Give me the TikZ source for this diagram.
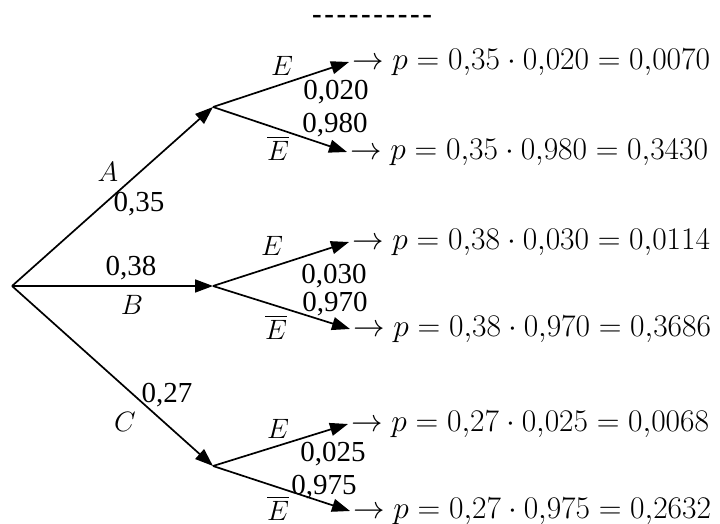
\RequirePackage{fix-cm}
\documentclass[tikz,border=0pt]{standalone}
\usepackage{fontspec}
\setmainfont{Liberation Serif}
\usepackage{amsmath}
\usepackage{tikz}
\usetikzlibrary{arrows.meta,positioning}

\begin{document}
\begin{tikzpicture}[
    x=1pt,y=-1pt,
    branch/.style={line width=1.7pt,-{Triangle[length=18pt,width=13pt]}},
    prob/.style={font=\fontsize{29}{32}\selectfont,inner sep=0pt},
    event/.style={font=\fontsize{28}{30}\selectfont,inner sep=0pt},
    result/.style={font=\fontsize{31.5}{34}\selectfont,inner sep=0pt}
  ]
    \useasboundingbox (0,0) rectangle (720,524);
    \node[prob,font=\fontsize{29}{32}\bfseries] (dashes) at (372,19) {\foreach \i in {1,...,10}{-\hspace{2.6pt}}};

    \coordinate (root) at (12,286);
    \coordinate (nA) at (213,107);
    \coordinate (nB) at (213,286);
    \coordinate (nC) at (213,466);
    \coordinate (lAE) at (349,62);
    \coordinate (lAN) at (347,152);
    \coordinate (lBE) at (349,242);
    \coordinate (lBN) at (350,329);
    \coordinate (lCE) at (348,424);
    \coordinate (lCN) at (350,511);

    \draw[branch] (root) -- (nA);
    \draw[branch] (root) -- (nB);
    \draw[branch] (root) -- (nC);
    \draw[branch] (nA) -- (lAE);
    \draw[branch] (nA) -- (lAN);
    \draw[branch] (nB) -- (lBE);
    \draw[branch] (nB) -- (lBN);
    \draw[branch] (nC) -- (lCE);
    \draw[branch] (nC) -- (lCN);

    \node[event] (evA) at (108,172) {$A$};
    \node[prob] (pA) at (139,204) {0,35};
    \node[prob] (pB) at (131,268) {0,38};
    \node[event] (evB) at (132,305) {$B$};
    \node[prob] (pC) at (167,395) {0,27};
    \node[event] (evC) at (125,422) {$C$};

    \node[event] (evAE) at (282,66) {$E$};
    \node[prob] (pAE) at (336,92) {0,020};
    \node[prob] (pAN) at (335,125) {0,980};
    \node[event] (evAN) at (278,148) {$\overline{E}$};
    \node[event] (evBE) at (272,246) {$E$};
    \node[prob] (pBE) at (334,276) {0,030};
    \node[prob] (pBN) at (335,304) {0,970};
    \node[event] (evBN) at (276,327) {$\overline{E}$};
    \node[event] (evCE) at (278,429) {$E$};
    \node[prob] (pCE) at (333,454) {0,025};
    \node[prob] (pCN) at (324,487) {0,975};
    \node[event] (evCN) at (278,508) {$\overline{E}$};

    \node[result,right=3pt of lAE] (rAE) {$\rightarrow p = 0{,}35\cdot 0{,}020 = 0{,}0070$};
    \node[result,right=3pt of lAN] (rAN) {$\rightarrow p = 0{,}35\cdot 0{,}980 = 0{,}3430$};
    \node[result,right=3pt of lBE] (rBE) {$\rightarrow p = 0{,}38\cdot 0{,}030 = 0{,}0114$};
    \node[result,right=3pt of lBN] (rBN) {$\rightarrow p = 0{,}38\cdot 0{,}970 = 0{,}3686$};
    \node[result,right=3pt of lCE] (rCE) {$\rightarrow p = 0{,}27\cdot 0{,}025 = 0{,}0068$};
    \node[result,right=3pt of lCN] (rCN) {$\rightarrow p = 0{,}27\cdot 0{,}975 = 0{,}2632$};
  \end{tikzpicture}
\end{document}
